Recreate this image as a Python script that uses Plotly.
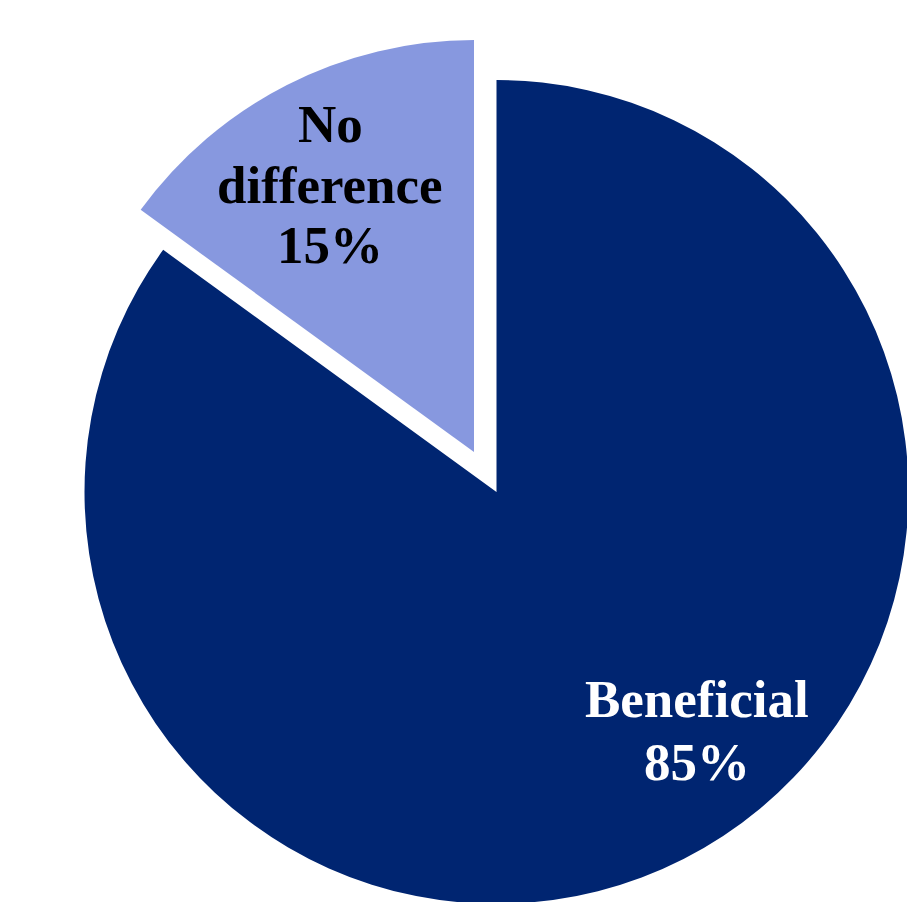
import plotly.graph_objects as go

labels = ["Beneficial", "No difference"]
values = [85, 15]
colors = ["#002571", "#8798DF"]
text_colors = ["white", "black"]
label_lines = [["Beneficial", "85%"], ["No", "difference", "15%"]]

W, H = 915, 902
OFF = 8  # page body margin offset
R = 412
big_c = (496.5 - OFF, 492 - OFF)
small_c = (474 - OFF, 452 - OFF)


def domain(c):
    cx, cy = c
    return dict(x=[(cx - R) / W, (cx + R) / W],
                y=[(H - (cy + R)) / H, (H - (cy - R)) / H])


fig = go.Figure()
fig.add_trace(go.Pie(labels=labels, values=values, sort=False,
                     direction="clockwise", rotation=0,
                     marker=dict(colors=[colors[0], "rgba(0,0,0,0)"], line=dict(width=0)),
                     textinfo="none", hoverinfo="label+percent", showlegend=False,
                     domain=domain(big_c)))
fig.add_trace(go.Pie(labels=labels, values=values, sort=False,
                     direction="clockwise", rotation=0,
                     marker=dict(colors=["rgba(0,0,0,0)", colors[1]], line=dict(width=0)),
                     textinfo="none", hoverinfo="label+percent", showlegend=False,
                     domain=domain(small_c)))

# label placement (text centre x, first baseline y, line step) in screen px
label_pos = [(697, 717, 63), (330, 142, 60.5)]
fs = 53
for i, lines in enumerate(label_lines):
    x, yb, step = label_pos[i]
    for j, ln in enumerate(lines):
        ymid = yb + j * step - 0.3375 * fs - OFF
        fig.add_annotation(x=(x - OFF) / W, y=1 - ymid / H, xref="paper", yref="paper",
                           text="<b>" + ln + "</b>", showarrow=False,
                           xanchor="center", yanchor="middle",
                           font=dict(family="Liberation Serif", size=fs, color=text_colors[i]),
                           borderpad=0)

fig.update_layout(width=W, height=H, margin=dict(l=0, r=0, t=0, b=0),
                  paper_bgcolor="white", plot_bgcolor="white",
                  font=dict(family="Liberation Serif"))

fig.write_html("out.html")
